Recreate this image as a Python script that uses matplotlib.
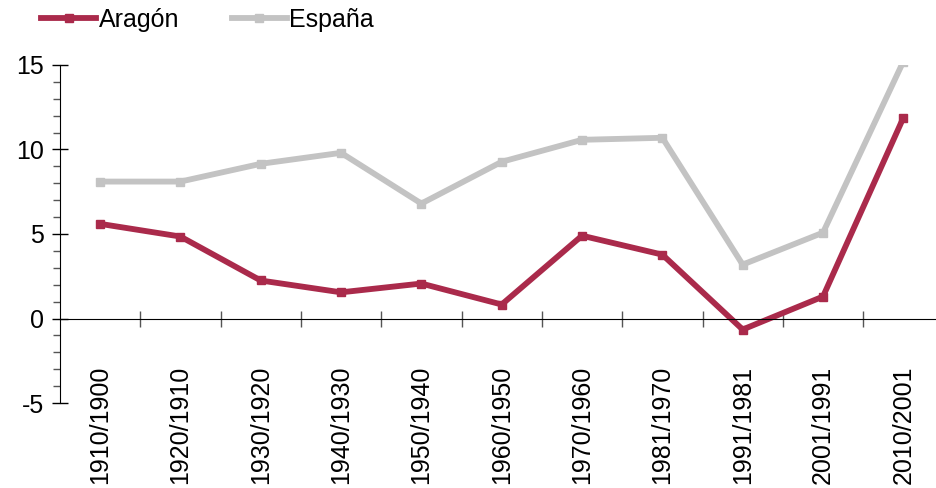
import matplotlib
matplotlib.use("Agg")
import matplotlib.pyplot as plt
import numpy as np

plt.rcParams['font.family'] = ['Liberation Sans', 'DejaVu Sans']
plt.rcParams['axes.unicode_minus'] = False

periods = ['1910/1900', '1920/1910', '1930/1920', '1940/1930', '1950/1940', '1960/1950',
           '1970/1960', '1981/1970', '1991/1981', '2001/1991', '2010/2001']
aragon = [5.6, 4.85, 2.25, 1.55, 2.07, 0.83, 4.9, 3.78, -0.65, 1.3, 11.87]
espana = [8.1, 8.1, 9.15, 9.8, 6.8, 9.27, 10.57, 10.69, 3.19, 5.08, 15.2]

fig = plt.figure(figsize=(9.36, 4.88), dpi=100)
ax = fig.add_axes([0.064, 0.174, 0.944, 0.693])

x = np.arange(len(periods))
ax.plot(x, espana, color='#C3C3C3', lw=4.2, marker='s', ms=6, label='España')
ax.plot(x, aragon, color='#AA2A4B', lw=4.2, marker='s', ms=6, label='Aragón')

ax.set_xlim(-0.5, len(periods) - 0.5)
ax.set_ylim(-5, 15)
ax.set_yticks([-5, 0, 5, 10, 15])
ax.set_yticks(np.arange(-5, 16, 1), minor=True)

for s in ['top', 'right']:
    ax.spines[s].set_visible(False)
ax.spines['bottom'].set_position(('data', 0))

ax.set_xticks(x)
ax.set_xticklabels(periods, rotation=90, va='top', ha='center')
ax.set_xticks(np.arange(0.5, len(periods) - 0.5, 1), minor=True)

ax.tick_params(axis='x', which='major', length=0, pad=34, labelsize=18)
ax.tick_params(axis='x', which='minor', direction='inout', length=11, width=1, color='#555555')
ax.tick_params(axis='y', which='major', direction='inout', length=11, width=1, labelsize=18, pad=6)
ax.tick_params(axis='y', which='minor', direction='out', length=5, width=1, color='#555555')

handles, labels = ax.get_legend_handles_labels()
fig.legend(handles[::-1], labels[::-1], loc='upper left', bbox_to_anchor=(0.02, 1.03), ncol=2,
           frameon=False, fontsize=18, handlelength=2.2, handletextpad=0.1, columnspacing=2.1)

fig.savefig('out.png', dpi=100)
